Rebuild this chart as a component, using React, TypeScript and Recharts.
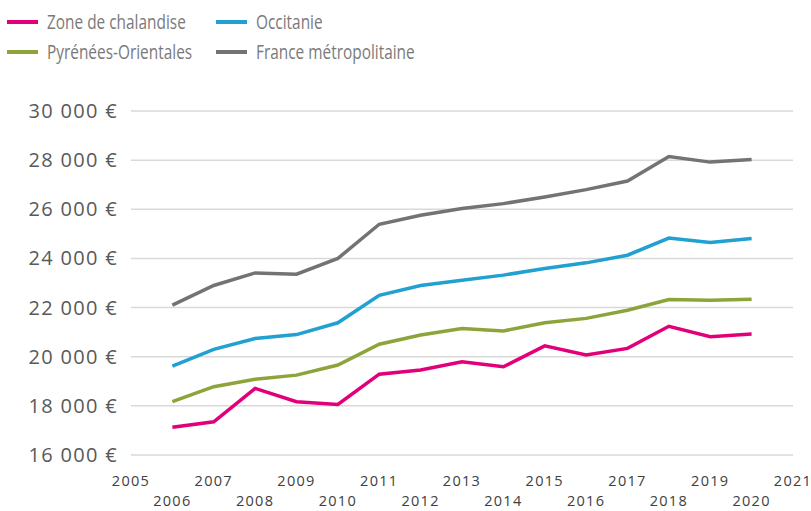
import { LineChart, Line, XAxis, YAxis, CartesianGrid } from "recharts";

const years = [2006, 2007, 2008, 2009, 2010, 2011, 2012, 2013, 2014, 2015, 2016, 2017, 2018, 2019, 2020];
const zone = [17130, 17350, 18710, 18170, 18060, 19290, 19460, 19790, 19590, 20440, 20070, 20340, 21240, 20810, 20920];
const occitanie = [19620, 20300, 20740, 20900, 21380, 22500, 22900, 23110, 23320, 23590, 23820, 24130, 24830, 24650, 24810];
const pyrenees = [18170, 18780, 19080, 19250, 19660, 20510, 20880, 21150, 21050, 21380, 21560, 21890, 22330, 22300, 22340];
const france = [22100, 22900, 23410, 23360, 24000, 25390, 25760, 26030, 26230, 26500, 26800, 27150, 28150, 27920, 28030];

const xTicks = [2005, 2006, 2007, 2008, 2009, 2010, 2011, 2012, 2013, 2014, 2015, 2016, 2017, 2018, 2019, 2020, 2021];
const yTicks = [16000, 18000, 20000, 22000, 24000, 26000, 28000, 30000];

const series = [
  { key: "zone", name: "Zone de chalandise", color: "#e2007a" },
  { key: "occitanie", name: "Occitanie", color: "#21a0d2" },
  { key: "pyrenees", name: "Pyrénées-Orientales", color: "#8ca43a" },
  { key: "france", name: "France métropolitaine", color: "#737373" },
];

const data = years.map((year, i) => ({
  year,
  zone: zone[i],
  occitanie: occitanie[i],
  pyrenees: pyrenees[i],
  france: france[i],
}));

const FONT = "'Open Sans', sans-serif";

function formatEuro(v: number) {
  const s = String(v);
  return s.slice(0, s.length - 3) + " " + s.slice(-3) + " €";
}

function XTick({ x, y, payload }: any) {
  const odd = payload.value % 2 === 1;
  return (
    <text
      x={x}
      y={y + (odd ? 23 : 43)}
      textAnchor="middle"
      fill="#404040"
      fontSize={14.5}
      letterSpacing={1.3}
      fontFamily={FONT}
    >
      {payload.value}
    </text>
  );
}

function YTick({ y, payload }: any) {
  return (
    <text
      x={118}
      y={y + 7}
      textAnchor="end"
      fill="#595959"
      fontSize={20}
      letterSpacing={1.3}
      fontFamily={FONT}
    >
      {formatEuro(payload.value)}
    </text>
  );
}

function LegendItem({ name, color, left, top }: { name: string; color: string; left: number; top: number }) {
  return (
    <div style={{ position: "absolute", left, top, display: "flex", alignItems: "center", whiteSpace: "nowrap" }}>
      <div style={{ width: 31, height: 4, background: color, marginRight: 9 }} />
      <span
        style={{
          display: "inline-block",
          fontSize: 20,
          color: "#7a7a7a",
          fontFamily: FONT,
          lineHeight: "26px",
          transform: "scaleX(0.77)",
          transformOrigin: "left center",
        }}
      >
        {name}
      </span>
    </div>
  );
}

export default function App() {
  return (
    <div style={{ position: "absolute", left: 0, top: 0, width: 811, height: 511, background: "#fff" }}>
      <LegendItem name={series[0].name} color={series[0].color} left={7} top={9} />
      <LegendItem name={series[1].name} color={series[1].color} left={216} top={9} />
      <LegendItem name={series[2].name} color={series[2].color} left={7} top={39} />
      <LegendItem name={series[3].name} color={series[3].color} left={216} top={39} />
      <div style={{ position: "absolute", left: 0, top: 0 }}>
        <LineChart width={811} height={511} data={data} margin={{ top: 111, right: 18, bottom: 0, left: 0 }}>
          <CartesianGrid vertical={false} stroke="#d9d9d9" strokeWidth={1.5} />
          <XAxis
            dataKey="year"
            type="number"
            domain={[2005, 2021]}
            ticks={xTicks}
            interval={0}
            height={56}
            axisLine={false}
            tickLine={false}
            tick={<XTick />}
          />
          <YAxis
            type="number"
            domain={[16000, 30000]}
            ticks={yTicks}
            width={131}
            axisLine={false}
            tickLine={false}
            tick={<YTick />}
          />
          {series.map((s) => (
            <Line
              key={s.key}
              dataKey={s.key}
              name={s.name}
              stroke={s.color}
              strokeWidth={3.5}
              dot={false}
              type="linear"
              isAnimationActive={false}
            />
          ))}
        </LineChart>
      </div>
    </div>
  );
}
